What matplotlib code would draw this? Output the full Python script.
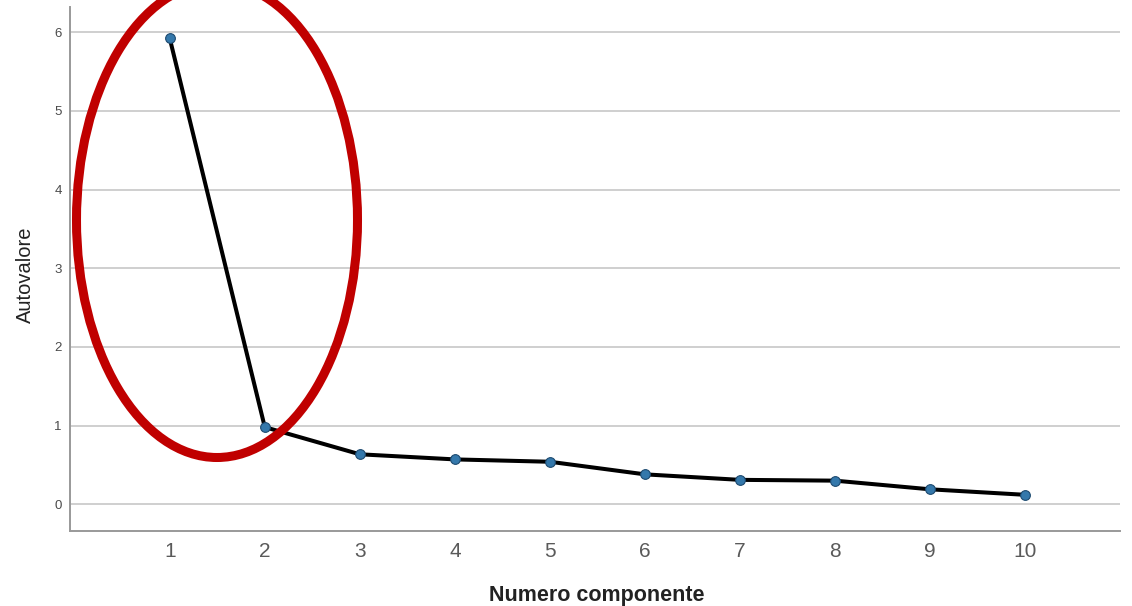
import matplotlib.pyplot as plt
from matplotlib.patches import Ellipse

plt.rcParams['font.family'] = ['Liberation Sans', 'DejaVu Sans']

# dati dello scree plot
componenti = [1, 2, 3, 4, 5, 6, 7, 8, 9, 10]
autovalori = [5.92, 0.98, 0.635, 0.57, 0.54, 0.38, 0.31, 0.30, 0.19, 0.12]
y_ticks = [0, 1, 2, 3, 4, 5, 6]

W, H = 1132, 606
fig = plt.figure(figsize=(W / 100, H / 100), dpi=100)
ax = fig.add_axes([70 / W, (H - 531) / H, (1120 - 70) / W, (531 - 7) / H])

ax.plot(componenti, autovalori, color='black', linewidth=2.9, zorder=3)
ax.plot(componenti, autovalori, 'o', markersize=7, markerfacecolor='#3478ab',
        markeredgecolor='#1d4a70', markeredgewidth=0.8, zorder=4)

ax.set_xlim(-0.05, 11)
ax.set_ylim(-0.34, 6.32)
ax.set_xticks(componenti)
ax.set_yticks(y_ticks)
ax.tick_params(axis='x', length=0, labelsize=15, labelcolor='#5a5a5a', pad=8)
ax.tick_params(axis='y', length=0, labelsize=9.5, labelcolor='#4a4a4a', pad=6)

ax.grid(axis='y', color='#cccccc', linewidth=1.3)
ax.set_axisbelow(True)
for s in ['top', 'right']:
    ax.spines[s].set_visible(False)
for s in ['left', 'bottom']:
    ax.spines[s].set_color('#999999')
    ax.spines[s].set_linewidth(1.4)

fig.text(489 / W, 1 - 595 / H, 'Numero componente', fontsize=15.5, fontweight='bold',
         color='#222222', ha='left', va='center')
fig.text(25 / W, 1 - 275 / H, 'Autovalore', fontsize=14.5, rotation=90,
         color='#222222', ha='center', va='center')

# ellisse rossa di evidenziazione
ell = Ellipse((217 / W, 1 - 220 / H), 281 / W, 475 / H, transform=fig.transFigure,
              fill=False, edgecolor='#c00000', linewidth=6.5, zorder=10)
fig.patches.append(ell)

fig.savefig('out.png', dpi=100)
